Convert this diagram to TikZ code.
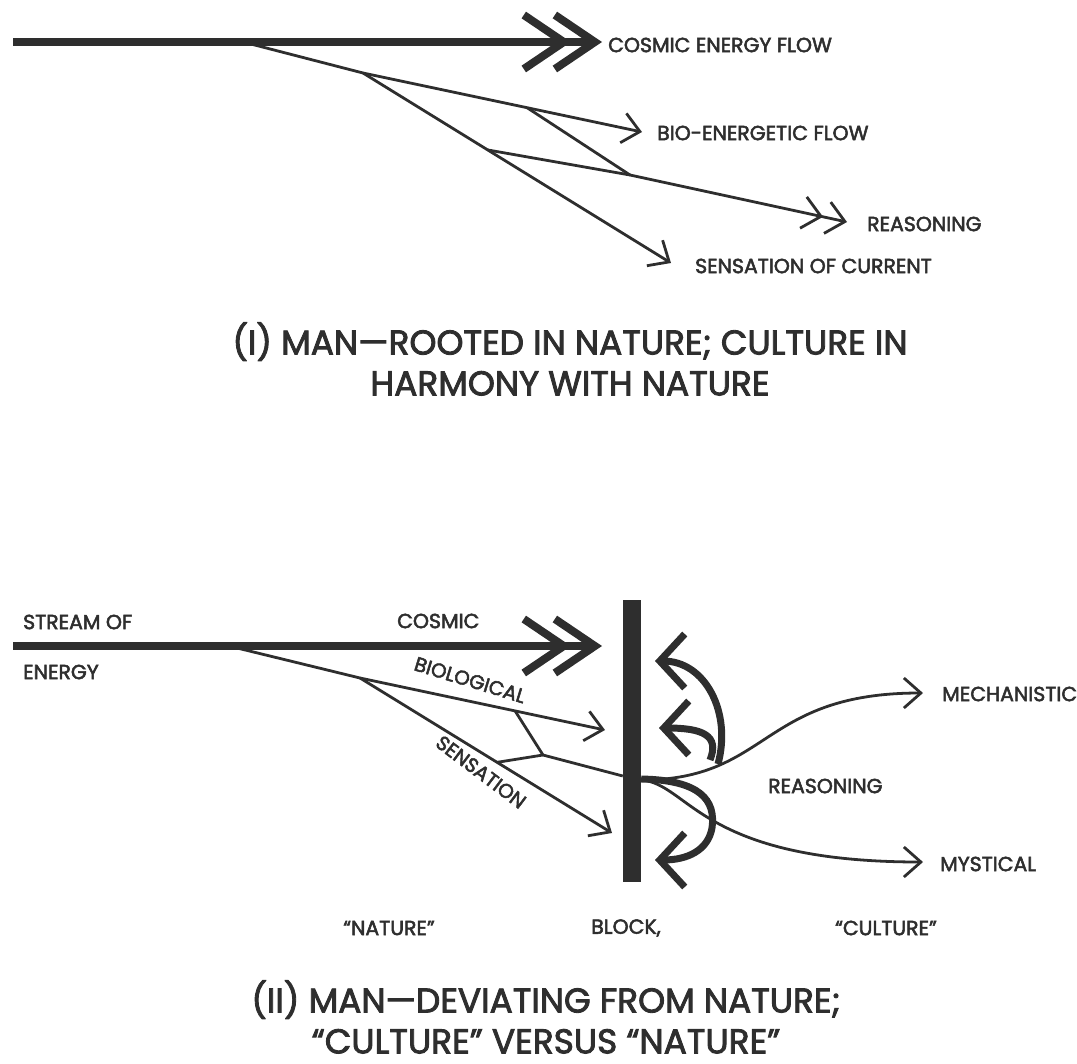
\documentclass[tikz,border=0pt]{standalone}
\usepackage{fontspec}
\setmainfont{Poppins}[FakeBold=2.5]
\usepackage{xcolor}
\usetikzlibrary{arrows.meta,calc,positioning}
\definecolor{ink}{HTML}{2E2E2E}

\begin{document}
\begin{tikzpicture}[x=1bp,y=-1bp,
  every node/.style={inner sep=0pt,text=ink},
  lbl/.style={font=\fontsize{20.5}{24}\selectfont,anchor=west},
  slanted/.style={font=\fontsize{20}{24}\selectfont},
  caption/.style={font=\fontsize{34.5}{41}\selectfont,align=center},
  energy/.style={draw=ink,line width=8pt,
    -{Straight Barb[length=40bp,width=54bp,sep=-20bp]Straight Barb[length=40bp,width=54bp,sep=-20bp]}},
  line/.style={draw=ink,line width=2.8pt},
  flow/.style={line,-{Straight Barb[length=17bp,width=30bp]}},
  twoflow/.style={line,-{Straight Barb[length=18bp,width=32bp,sep=3bp]Straight Barb[length=18bp,width=32bp]}},
  turn/.style={draw=ink,line width=7pt,-{Straight Barb[length=25bp,width=54bp]}}]
\useasboundingbox (0,0) rectangle (1077,1064);

% (I) rooted in nature
\coordinate (src1) at (13,42);
\coordinate (cos1) at (582,42);
\coordinate (fork1) at (247,43);
\coordinate (fork2) at (363,73);
\coordinate (biotip1) at (642,132);
\coordinate (sentip1) at (671,263);
\coordinate (reatip1) at (847,222);
\coordinate (rea1) at (630,175);
\coordinate (bio1) at ($(fork2)!0.588!(biotip1)$);
\coordinate (sen1) at ($(fork2)!0.405!(sentip1)$);
\node[lbl] (cosmic1) at (608,45) {COSMIC ENERGY FLOW};
\node[lbl] (bioflow) at (657,133) {BIO-ENERGETIC FLOW};
\node[lbl] (reason1) at (867,224) {REASONING};
\node[lbl] (current) at (695,266) {SENSATION OF CURRENT};
\draw[energy] (src1) -- (cos1);
\draw[line] (fork1) -- (fork2);
\draw[flow] (fork2) -- (biotip1);
\draw[flow] (fork2) -- (sentip1);
\draw[line] (bio1) -- (rea1);
\draw[line] (sen1) -- (rea1);
\draw[twoflow] (rea1) -- (reatip1);
\node[caption] (capI) at (570,359) {(I) MAN—ROOTED IN NATURE; CULTURE IN\\HARMONY WITH NATURE};

% (II) deviating from nature
\node[fill=ink,minimum width=18bp,minimum height=282bp] (block) at (632,741) {};
\coordinate (src2) at (13,646);
\coordinate (cos2) at (582,646);
\coordinate (fork3) at (233,647);
\coordinate (fork4) at (360,678);
\coordinate (biotip2) at (605,730);
\coordinate (sentip2) at (612,833);
\coordinate (bio2) at ($(fork4)!0.633!(biotip2)$);
\coordinate (sen2) at ($(fork4)!0.544!(sentip2)$);
\coordinate (kink) at (543,755);
\coordinate (hit) at (block.west |- 0,776);
\coordinate (exit) at (block.east |- 0,780);
\coordinate (mechtip) at (923,693);
\coordinate (mysttip) at (923,862);
\coordinate (up1) at (718,764);
\coordinate (up2) at (710,760);
\coordinate (uptip1) at (655,661);
\coordinate (uptip2) at (659,728);
\coordinate (downtip) at (655,860);
\node[lbl] (stream) at (23,622) {STREAM OF};
\node[lbl] (energy) at (23,672) {ENERGY};
\node[lbl] (cosmic2) at (397,621) {COSMIC};
\node[slanted,rotate=-17] (biolog) at (470,680) {BIOLOGICAL};
\node[slanted,rotate=-37] (sensat) at (481,772) {SENSATION};
\node[lbl] (mech) at (942,694) {MECHANISTIC};
\node[lbl] (reason2) at (768,786) {REASONING};
\node[lbl] (myst) at (940,864) {MYSTICAL};
\node[lbl,anchor=center] (nat) at (389,928) {“NATURE”};
\node[lbl,anchor=center] (blk) at (626,928) {BLOCK,};
\node[lbl,anchor=center] (cult) at (886,928) {“CULTURE”};
\draw[energy] (src2) -- (cos2);
\draw[line] (fork3) -- (fork4);
\draw[flow] (fork4) -- (biotip2);
\draw[flow] (fork4) -- (sentip2);
\draw[line] (bio2) -- (kink);
\draw[line] (sen2) -- (kink);
\draw[line] (kink) -- (hit);
\draw[flow] (exit) .. controls (770,780) and (760,693) .. (mechtip);
\draw[flow] (exit) .. controls (690,784) and (700,862) .. (mysttip);
\draw[turn] (up1) .. controls (732,712) and (705,661) .. (uptip1);
\draw[turn] (up2) .. controls (720,735) and (702,728) .. (uptip2);
\draw[turn] (block.east |- 0,779) .. controls (700,780) and (716,800) .. (712,828)
  .. controls (708,850) and (688,860) .. (downtip);
\node[caption] (capII) at (546,1017) {(II) MAN—DEVIATING FROM NATURE;\\“CULTURE” VERSUS “NATURE”};
\end{tikzpicture}
\end{document}
